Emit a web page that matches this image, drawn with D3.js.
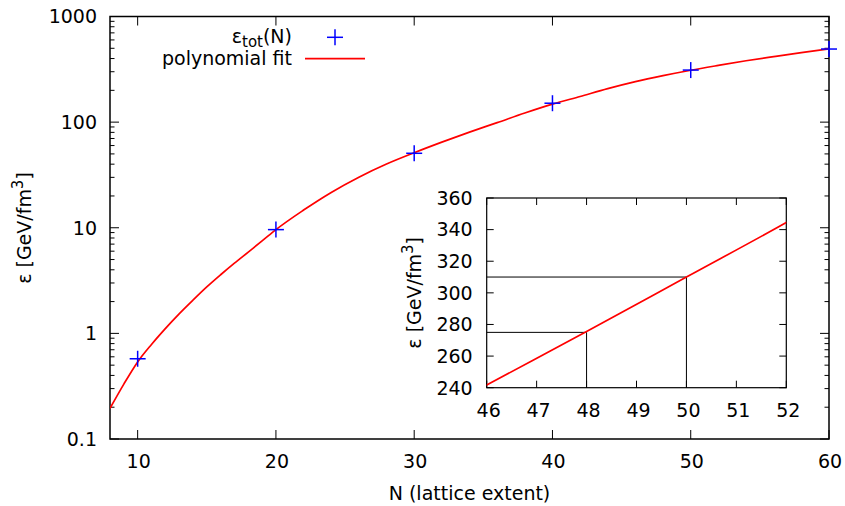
<!DOCTYPE html>
<html>
<head>
<meta charset="utf-8">
<script src="https://cdn.jsdelivr.net/npm/d3@7"></script>
<style>
html,body{margin:0;padding:0;background:#fff;}
svg text{font-family:"DejaVu Sans",sans-serif;fill:#000;}
</style>
</head>
<body>
<svg id="chart" width="845" height="506"></svg>
<script>
// ---- data ----
const pointN = [10, 20, 30, 40, 50, 60];
const pointE = [0.575, 9.6, 50.7, 151, 311, 492];
const fitN = [8, 9, 10, 11, 12, 13, 14, 15, 16, 17, 18, 19, 20, 22, 24, 26, 28, 30, 32, 34, 36, 38, 40, 42, 44, 46, 48, 50, 52, 54, 56, 58, 60];
const fitE = [0.195, 0.331, 0.537, 0.785, 1.109, 1.531, 2.065, 2.754, 3.589, 4.624, 5.888, 7.499, 9.6, 14.7, 21.6, 30.1, 40.1, 51.3, 64.6, 80.4, 98.9, 122, 148, 175, 207.5, 241.7, 275.5, 310, 344.5, 381, 417, 455, 493];
const xTicks = [10, 20, 30, 40, 50, 60];
const yTicks = [0.1, 1, 10, 100, 1000];
const yTickLabels = ["0.1", "1", "10", "100", "1000"];
const insetXTicks = [46, 47, 48, 49, 50, 51, 52];
const insetYTicks = [240, 260, 280, 300, 320, 340, 360];
const markN = [48, 50];
const markE = [275, 310];
const legendLabels = ["polynomial fit"];

const svg = d3.select("#chart");
const FS = 19;

// ---- main plot ----
const M = {l: 110, r: 829, t: 16.5, b: 439};
const x = d3.scaleLinear().domain([8, 60]).range([M.l, M.r]);
const y = d3.scaleLog().domain([0.1, 1000]).range([M.b, M.t]);

svg.append("defs").append("clipPath").attr("id", "clipMain")
  .append("rect").attr("x", M.l).attr("y", M.t).attr("width", M.r - M.l).attr("height", M.b - M.t);

const minor = [];
for (let d = -1; d < 3; d++) for (let k = 2; k <= 9; k++) minor.push(k * Math.pow(10, d));

const g = svg.append("g");
// minor y ticks (left and right)
g.selectAll(".mnl").data(minor).join("line")
  .attr("x1", M.l).attr("x2", M.l + 4.5).attr("y1", d => y(d)).attr("y2", d => y(d))
  .attr("stroke", "#000").attr("stroke-width", 1);
g.selectAll(".mnr").data(minor).join("line")
  .attr("x1", M.r).attr("x2", M.r - 4.5).attr("y1", d => y(d)).attr("y2", d => y(d))
  .attr("stroke", "#000").attr("stroke-width", 1);
// major y ticks
g.selectAll(".mjl").data(yTicks).join("line")
  .attr("x1", M.l).attr("x2", M.l + 9).attr("y1", d => y(d)).attr("y2", d => y(d))
  .attr("stroke", "#000").attr("stroke-width", 1);
g.selectAll(".mjr").data(yTicks).join("line")
  .attr("x1", M.r).attr("x2", M.r - 9).attr("y1", d => y(d)).attr("y2", d => y(d))
  .attr("stroke", "#000").attr("stroke-width", 1);
// x ticks (bottom and top)
g.selectAll(".xb").data(xTicks).join("line")
  .attr("x1", d => x(d)).attr("x2", d => x(d)).attr("y1", M.b).attr("y2", M.b - 9)
  .attr("stroke", "#000").attr("stroke-width", 1);
g.selectAll(".xt").data(xTicks).join("line")
  .attr("x1", d => x(d)).attr("x2", d => x(d)).attr("y1", M.t).attr("y2", M.t + 9)
  .attr("stroke", "#000").attr("stroke-width", 1);
// frame
g.append("rect").attr("x", M.l).attr("y", M.t).attr("width", M.r - M.l).attr("height", M.b - M.t)
  .attr("fill", "none").attr("stroke", "#000").attr("stroke-width", 1.5);

// tick labels
g.selectAll(".xl").data(xTicks).join("text")
  .attr("x", d => x(d) + 1).attr("y", 468).attr("text-anchor", "middle")
  .attr("font-size", FS).text(d => d);
g.selectAll(".yl").data(yTicks).join("text")
  .attr("x", 97).attr("y", d => y(d) + 6.8).attr("text-anchor", "end")
  .attr("font-size", FS).text((d, i) => yTickLabels[i]);

// axis titles
svg.append("text").attr("x", 469.5).attr("y", 500).attr("text-anchor", "middle")
  .attr("font-size", FS).text("N (lattice extent)");
const yt = svg.append("text").attr("transform", "translate(31,228) rotate(-90)")
  .attr("text-anchor", "middle").attr("font-size", FS);
yt.append("tspan").text("ε [GeV/fm");
yt.append("tspan").attr("dy", -8).attr("font-size", 15).text("3");
yt.append("tspan").attr("dy", 8).text("]");

// fit curve
const fitData = fitN.map((n, i) => [n, fitE[i]]);
const line = d3.line().x(d => x(d[0])).y(d => y(d[1])).curve(d3.curveMonotoneX);
svg.append("path").attr("clip-path", "url(#clipMain)").datum(fitData).attr("d", line)
  .attr("fill", "none").attr("stroke", "#ff0000").attr("stroke-width", 1.7);

// data points (plus)
const pts = pointN.map((n, i) => [n, pointE[i]]);
const P = 8;
const pg = svg.append("g").attr("stroke", "#0000ff").attr("stroke-width", 1.5);
pts.forEach(d => {
  const cx = x(d[0]), cy = y(d[1]);
  pg.append("line").attr("x1", cx - P).attr("x2", cx + P).attr("y1", cy).attr("y2", cy);
  pg.append("line").attr("x1", cx).attr("x2", cx).attr("y1", cy - P).attr("y2", cy + P);
});

// legend
const l1 = svg.append("text").attr("x", 292).attr("y", 43.3).attr("text-anchor", "end").attr("font-size", FS);
l1.append("tspan").text("ε");
l1.append("tspan").attr("dy", 3.5).attr("font-size", 15).text("tot");
l1.append("tspan").attr("dy", -3.5).text("(N)");
pg.append("line").attr("x1", 335 - P).attr("x2", 335 + P).attr("y1", 37.3).attr("y2", 37.3);
pg.append("line").attr("x1", 335).attr("x2", 335).attr("y1", 37.3 - P).attr("y2", 37.3 + P);
svg.append("text").attr("x", 292).attr("y", 65).attr("text-anchor", "end").attr("font-size", FS).text(legendLabels[0]);
svg.append("line").attr("x1", 305).attr("x2", 365).attr("y1", 58.7).attr("y2", 58.7)
  .attr("stroke", "#ff0000").attr("stroke-width", 1.7);

// ---- inset ----
const I = {l: 486.7, r: 786.3, t: 198, b: 387.7};
const ix = d3.scaleLinear().domain([46, 52]).range([I.l, I.r]);
const iy = d3.scaleLinear().domain([240, 360]).range([I.b, I.t]);
svg.select("defs").append("clipPath").attr("id", "clipInset")
  .append("rect").attr("x", I.l).attr("y", I.t).attr("width", I.r - I.l).attr("height", I.b - I.t);

const ig = svg.append("g");
const TL = 7;
ig.selectAll(".ixb").data(insetXTicks).join("line")
  .attr("x1", d => ix(d)).attr("x2", d => ix(d)).attr("y1", I.b).attr("y2", I.b - TL)
  .attr("stroke", "#000").attr("stroke-width", 1);
ig.selectAll(".ixt").data(insetXTicks).join("line")
  .attr("x1", d => ix(d)).attr("x2", d => ix(d)).attr("y1", I.t).attr("y2", I.t + TL)
  .attr("stroke", "#000").attr("stroke-width", 1);
ig.selectAll(".iyl").data(insetYTicks).join("line")
  .attr("x1", I.l).attr("x2", I.l + TL).attr("y1", d => iy(d)).attr("y2", d => iy(d))
  .attr("stroke", "#000").attr("stroke-width", 1);
ig.selectAll(".iyr").data(insetYTicks).join("line")
  .attr("x1", I.r).attr("x2", I.r - TL).attr("y1", d => iy(d)).attr("y2", d => iy(d))
  .attr("stroke", "#000").attr("stroke-width", 1);

// guide lines
markN.forEach((n, i) => {
  ig.append("line").attr("x1", ix(46)).attr("x2", ix(n)).attr("y1", iy(markE[i])).attr("y2", iy(markE[i]))
    .attr("stroke", "#000").attr("stroke-width", 1);
  ig.append("line").attr("x1", ix(n)).attr("x2", ix(n)).attr("y1", iy(240)).attr("y2", iy(markE[i]))
    .attr("stroke", "#000").attr("stroke-width", 1);
});

ig.append("rect").attr("x", I.l).attr("y", I.t).attr("width", I.r - I.l).attr("height", I.b - I.t)
  .attr("fill", "none").attr("stroke", "#000").attr("stroke-width", 1.2);

const iline = d3.line().x(d => ix(d[0])).y(d => iy(d[1])).curve(d3.curveMonotoneX);
ig.append("path").attr("clip-path", "url(#clipInset)").datum(fitData.filter(d => d[0] >= 44 && d[0] <= 54))
  .attr("d", iline).attr("fill", "none").attr("stroke", "#ff0000").attr("stroke-width", 1.7);

ig.selectAll(".ixlab").data(insetXTicks).join("text")
  .attr("x", d => ix(d) + 2).attr("y", 417).attr("text-anchor", "middle")
  .attr("font-size", FS).text(d => d);
ig.selectAll(".iylab").data(insetYTicks).join("text")
  .attr("x", 472.7).attr("y", d => iy(d) + 6.8).attr("text-anchor", "end")
  .attr("font-size", FS).text(d => d);

const it = svg.append("text").attr("transform", "translate(420.5,292.8) rotate(-90)")
  .attr("text-anchor", "middle").attr("font-size", FS);
it.append("tspan").text("ε [GeV/fm");
it.append("tspan").attr("dy", -8).attr("font-size", 15).text("3");
it.append("tspan").attr("dy", 8).text("]");
</script>
</body>
</html>
